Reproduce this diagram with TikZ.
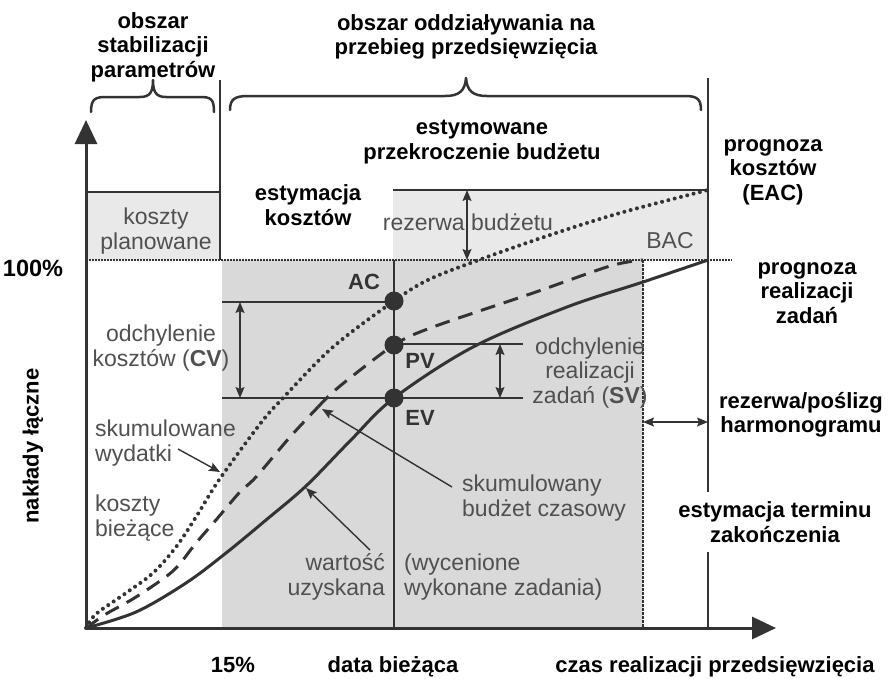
\documentclass[tikz,border=0pt]{standalone}
\usepackage{fontspec}
\setmainfont{Liberation Sans}
\usetikzlibrary{arrows.meta}
\definecolor{ink}{HTML}{333333}
\definecolor{txtgray}{HTML}{505050}
\definecolor{fillA}{HTML}{D9D9D9}
\definecolor{fillB}{HTML}{E9E9E9}
\begin{document}
\begin{tikzpicture}[x=1pt,y=-1pt,
  blbl/.style={font=\bfseries\fontsize{22}{24.5}\selectfont, align=center, inner sep=0pt, text=black},
  glbl/.style={font=\fontsize{23}{24.5}\selectfont, inner sep=0pt, text=txtgray},
  thinline/.style={draw=ink, line width=1.4pt},
  curve/.style={draw=ink, line width=3pt},
  dbl/.style={thinline, {Stealth[length=11pt,width=9pt,inset=2pt]}-{Stealth[length=11pt,width=9pt,inset=2pt]}},
  ptr/.style={thinline, -{Stealth[length=11pt,width=9pt,inset=2pt]}},
  dotnode/.style={circle, fill=ink, minimum size=19pt, inner sep=0pt},
  bracestyle/.style={draw=ink, line width=2.5pt, line cap=round, line join=round},
  axis/.style={draw=ink, line width=3pt, -{Triangle[length=24pt,width=22pt]}}
]
\useasboundingbox (0,0) rectangle (890,678);

% shaded areas
\fill[fillB] (86,192) rectangle (220,260);
\fill[fillB] (393,190) rectangle (708,260);
\fill[fillA] (222,260) rectangle (643,628);

% coordinates
\coordinate (O) at (86,628);
\coordinate (ytip) at (86,120);
\coordinate (xtip) at (776,628);
\coordinate (kpL) at (86,192);
\coordinate (kpR) at (220,192);
\coordinate (v1top) at (220,80);
\coordinate (v1bot) at (220,260);
\coordinate (ekL) at (393,190);
\coordinate (EAC) at (708,190);
\coordinate (v2top) at (708,78);
\coordinate (v2gapA) at (708,492);
\coordinate (v2gapB) at (708,552);
\coordinate (v2bot) at (708,628);
\coordinate (hL) at (86,260);
\coordinate (hR) at (732,260);
\coordinate (bacT) at (643,260);
\coordinate (bacB) at (643,628);
\coordinate (dT) at (394,260);
\coordinate (dB) at (394,628);
\coordinate (cvTL) at (222,302);
\coordinate (cvBL) at (222,398);
\coordinate (svBR) at (523,398);
\coordinate (svTR) at (523,344);
\coordinate (cvA) at (240,302);
\coordinate (cvB) at (240,398);
\coordinate (svA) at (500,344);
\coordinate (svB) at (500,398);
\coordinate (rbA) at (467,190);
\coordinate (rbB) at (467,260);
\coordinate (rpA) at (643,422);
\coordinate (rpB) at (708,422);

% frame lines
\draw[thinline] (kpL) -- (kpR);
\draw[thinline] (v1top) -- (v1bot);
\draw[thinline] (ekL) -- (EAC);
\draw[thinline] (v2top) -- (v2gapA);
\draw[thinline] (v2gapB) -- (v2bot);
\draw[draw=ink, line width=1.2pt, dash pattern=on 1.5pt off 1.5pt] (hL) -- (hR);
\draw[draw=ink, line width=1.2pt, dash pattern=on 3pt off 1pt] (bacT) -- (bacB);
\draw[thinline] (dT) -- (dB);
\draw[thinline] (cvTL) -- (dT |- cvTL);
\draw[thinline] (cvBL) -- (svBR);
\draw[thinline] (dT |- svTR) -- (svTR);

% double arrows
\draw[dbl] (cvA) -- (cvB);
\draw[dbl] (svA) -- (svB);
\draw[dbl] (rbA) -- (rbB);
\draw[dbl] (rpA) -- (rpB);

% curves
\draw[draw=ink, line width=4pt, line cap=round, dash pattern=on 0pt off 6.5pt]
  plot[smooth, tension=0.55] coordinates {(86,628) (96,614) (126,593) (153,573) (176,547) (196,517) (219,480) (260,424) (283,398) (333,347) (394,301) (430,279) (487,257) (553,234) (620,213) (708,190)};
\draw[curve, dash pattern=on 15pt off 9pt]
  plot[smooth, tension=0.5] coordinates {(86,628) (106,614) (136,597) (173,571) (196,543) (216,520) (239,493) (256,477) (290,437) (318,407)};
\draw[curve, dash pattern=on 15pt off 9pt]
  plot[smooth, tension=0.5] coordinates {(318,407) (340,386) (394,345) (433,327) (533,293) (610,266) (643,260)};
\draw[curve]
  plot[smooth, tension=0.55] coordinates {(86,628) (136,612) (186,583) (226,553) (266,520) (306,486) (350,441) (394,398) (473,347) (567,307) (643,282) (708,260)};

% dots
\node[dotnode] (AC) at (394,301) {};
\node[dotnode] (PV) at (394,345) {};
\node[dotnode] (EV) at (394,398) {};

% axes
\draw[axis] (O) -- (ytip);
\draw[axis] (O) -- (xtip);

% braces
\draw[bracestyle] (91,112) .. controls (91,99) and (95,97) .. (106,97) -- (140,97)
  .. controls (150,97) and (153,92) .. (153,80) .. controls (153,92) and (156,97) .. (166,97)
  -- (200,97) .. controls (211,97) and (214,99) .. (214,112);
\draw[bracestyle] (230,110) .. controls (230,99) and (235,96) .. (248,96) -- (445,96)
  .. controls (459,96) and (465,91) .. (466,78) .. controls (467,91) and (473,96) .. (487,96)
  -- (685,96) .. controls (697,96) and (701,99) .. (701,110);

% texts (black bold)
\node[blbl] (t1) at (153,47) {obszar\\stabilizacji\\parametrów};
\node[blbl] (t2) at (466,37) {obszar oddziaływania na\\przebieg przedsięwzięcia};
\node[blbl] (t3) at (482,142) {estymowane\\przekroczenie budżetu};
\node[blbl] (t4) at (308,205) {estymacja\\kosztów};
\node[blbl] (t5) at (773,172) {prognoza\\kosztów\\(EAC)};
\node[blbl, anchor=base, font=\bfseries\fontsize{23.5}{25}\selectfont] (t6) at (33,276) {100\%};
\node[blbl] (t7) at (807,293) {prognoza\\realizacji\\zadań};
\node[blbl] (t8) at (801,415) {rezerwa/poślizg\\harmonogramu};
\node[blbl] (t9) at (775,522) {estymacja terminu\\zakończenia};
\node[blbl, rotate=90] (t10) at (33,446) {nakłady łączne};
\node[blbl, anchor=base] (t11) at (233,672) {15\%};
\node[blbl, anchor=base] (t12) at (393,672) {data bieżąca};
\node[blbl, anchor=base] (t13) at (715,672) {czas realizacji przedsięwzięcia};
\node[blbl, text=ink] (lAC) at (364,282) {AC};
\node[blbl, text=ink] (lPV) at (420,361) {PV};
\node[blbl, text=ink] (lEV) at (420,418) {EV};

% texts (gray)
\node[glbl] (g1) at (468,222) {rezerwa budżetu};
\node[glbl] (g2) at (670,241) {BAC};
\node[glbl, align=center] (g3) at (156,231) {koszty\\planowane};
\node[glbl, align=center] (g4) at (161,348) {odchylenie\\kosztów (\textbf{CV})};
\node[glbl, align=center] (g5) at (590,373) {odchylenie\\realizacji\\zadań (\textbf{SV})};
\node[glbl, align=left, anchor=west] (g6) at (95,443) {skumulowane\\wydatki};
\node[glbl, align=left, anchor=west] (g7) at (95,518) {koszty\\bieżące};
\node[glbl, align=left, anchor=west] (g8) at (462,498) {skumulowany\\budżet czasowy};
\node[glbl, align=right, anchor=east] (g9) at (385,577) {wartość\\uzyskana};
\node[glbl, align=left, anchor=west] (g10) at (404,577) {(wycenione\\wykonane zadania)};

% pointer arrows
\coordinate (p1a) at (178,449);
\coordinate (p1b) at (220,472);
\coordinate (p2a) at (452,487);
\coordinate (p2b) at (322,409);
\coordinate (p3a) at (370,550);
\coordinate (p3b) at (306,488);
\draw[ptr] (p1a) -- (p1b);
\draw[ptr] (p2a) -- (p2b);
\draw[ptr] (p3a) -- (p3b);
\end{tikzpicture}
\end{document}
